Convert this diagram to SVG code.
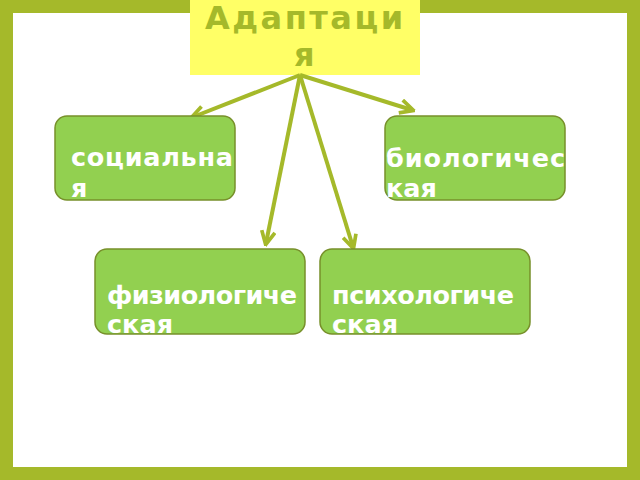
<svg xmlns="http://www.w3.org/2000/svg" width="640" height="480" viewBox="0 0 640 480">
<defs>
<style>
.box{fill:#92d050;stroke:#77902a;stroke-width:1.5}
.lbl{font-family:"DejaVu Sans",sans-serif;font-weight:bold;font-size:25.5px;fill:#ffffff}
.ttl{font-family:"DejaVu Sans",sans-serif;font-weight:bold;font-size:32px;fill:#a5b92a;letter-spacing:2.5px}
.con{stroke:#a5b92a;stroke-width:4;fill:none}
</style>
<marker id="ah" viewBox="0 0 10 10" refX="8" refY="5" markerWidth="4.2" markerHeight="4.2" orient="auto" markerUnits="strokeWidth">
<path d="M1,1 L9,5 L1,9" fill="none" stroke="#a5b92a" stroke-width="2.2"/>
</marker>
</defs>
<rect x="0" y="0" width="640" height="480" fill="#a5b92a"/>
<rect x="13" y="13" width="614" height="454" fill="#ffffff"/>
<g id="title">
<rect x="190" y="0" width="230" height="75" fill="#ffff66"/>
<text class="ttl" x="205" y="29">Адаптаци</text>
<text class="ttl" x="294" y="66">я</text>
</g>
<g id="connectors">
<line class="con" x1="300" y1="75" x2="193" y2="117" marker-end="url(#ah)"/>
<line class="con" x1="300" y1="75" x2="412" y2="110" marker-end="url(#ah)"/>
<line class="con" x1="300" y1="75" x2="266" y2="243" marker-end="url(#ah)"/>
<line class="con" x1="300" y1="75" x2="353" y2="247" marker-end="url(#ah)"/>
</g>
<g id="social">
<rect class="box" x="55" y="116" width="180" height="84" rx="12"/>
<text class="lbl" x="71" y="166" textLength="162" lengthAdjust="spacing">социальна</text>
<text class="lbl" x="71" y="197">я</text>
</g>
<g id="bio">
<rect class="box" x="385" y="116" width="180" height="84" rx="12"/>
<text class="lbl" x="386" y="167" textLength="179" lengthAdjust="spacing">биологичес</text>
<text class="lbl" x="386" y="197">кая</text>
</g>
<g id="physio">
<rect class="box" x="95" y="249" width="210" height="85" rx="12"/>
<text class="lbl" x="107" y="304" textLength="190" lengthAdjust="spacing">физиологиче</text>
<text class="lbl" x="107" y="333">ская</text>
</g>
<g id="psycho">
<rect class="box" x="320" y="249" width="210" height="85" rx="12"/>
<text class="lbl" x="332" y="304" textLength="182" lengthAdjust="spacing">психологиче</text>
<text class="lbl" x="332" y="333">ская</text>
</g>
</svg>
